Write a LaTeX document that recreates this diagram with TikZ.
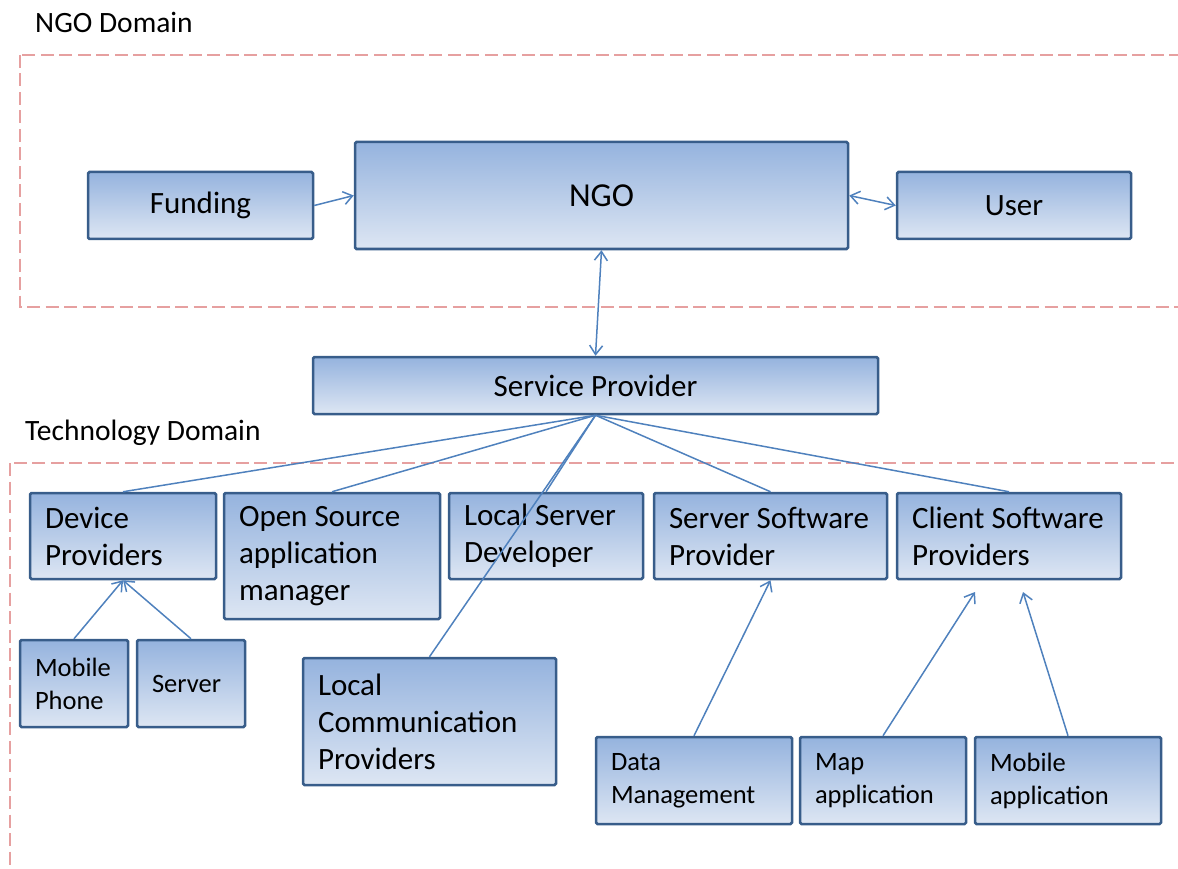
\documentclass[tikz,border=0pt]{standalone}
\usepackage{fontspec}
\setmainfont{Carlito}
\usetikzlibrary{arrows.meta}
\definecolor{boxline}{RGB}{56,93,138}
\definecolor{boxtop}{RGB}{149,179,222}
\definecolor{boxbot}{RGB}{221,230,243}
\definecolor{linkblue}{RGB}{79,129,189}
\definecolor{domainred}{RGB}{230,160,160}

\begin{document}
\begin{tikzpicture}[x=1pt,y=-1pt,>={Straight Barb[length=9pt,width=13pt]},
		blk/.style={draw=boxline,line width=2.5pt,rounded corners=1.5pt,top color=boxtop,bottom color=boxbot,inner sep=0pt,font=\fontsize{31}{37}\selectfont},
		lblk/.style={blk,align=flush left},
		small/.style={font=\fontsize{26.5}{33}\selectfont},
		link/.style={draw=linkblue,line width=1.5pt},
		domainbox/.style={draw=domainred,line width=1.7pt,dash pattern=on 13pt off 5.5pt},
		dlabel/.style={font=\fontsize{29.5}{35}\selectfont,inner sep=0pt}]
			\useasboundingbox (0,0) rectangle (1178,869);
			\clip (0,0) rectangle (1178,869);
			% NGO domain
			\draw[domainbox] (20,55) rectangle (1200,307);
			\node[dlabel,anchor=base west] (ngodom) at (35,33) {NGO Domain};
			\node[blk,minimum width=225pt,minimum height=67pt] (fund) at (200.5,205.5) {Funding};
			\node[blk,minimum width=493pt,minimum height=107pt,font=\fontsize{33.5}{40}\selectfont] (ngo) at (601.5,195.5) {NGO};
			\node[blk,minimum width=234pt,minimum height=67pt] (user) at (1014,205.5) {User};
			% Service provider
			\node[blk,minimum width=565pt,minimum height=57pt] (sp) at (595.5,385.5) {Service Provider};
			% Technology domain
			\draw[domainbox] (10,463) rectangle (1200,900);
			\node[dlabel,anchor=base west] (techdom) at (25,440) {Technology Domain};
			\node[lblk,minimum width=186pt,minimum height=86pt,text width=156pt] (dev) at (123,536) {Device\\Providers};
			\node[lblk,minimum width=216pt,minimum height=126pt,text width=186pt] (oss) at (332,556) {Open Source\\application\\manager};
			\node[lblk,minimum width=194pt,minimum height=86pt,text width=164pt] (lsd) at (546,536) {Local Server\\Developer};
			\node[lblk,minimum width=233pt,minimum height=86pt,text width=203pt] (ssp) at (770.5,536) {Server Software\\Provider};
			\node[lblk,minimum width=224pt,minimum height=86pt,text width=194pt] (csp) at (1009,536) {Client Software\\Providers};
			\node[lblk,minimum width=253pt,minimum height=127pt,text width=223pt] (lcp) at (429.5,721.5) {Local\\Communication\\Providers};
			% Lower boxes
			\node[lblk,small,minimum width=108pt,minimum height=87pt,text width=78pt] (mob) at (74,683.5) {Mobile\\Phone};
			\node[lblk,small,minimum width=108pt,minimum height=87pt,text width=78pt] (srv) at (191,683.5) {Server};
			\node[lblk,small,minimum width=196pt,minimum height=87pt,text width=166pt] (dat) at (694,780.5) {Data\\Management};
			\node[lblk,small,minimum width=166pt,minimum height=87pt,text width=136pt] (map) at (883,780.5) {Map\\application};
			\node[lblk,small,minimum width=186pt,minimum height=87pt,text width=156pt] (mapp) at (1068,780.5) {Mobile\\application};
			\coordinate (cspa) at (975,592);
			\coordinate (cspb) at (1023,592);
			% Links
			\draw[link,->] (fund.east) -- (ngo.west);
			\draw[link,<->] (ngo.east) -- (user.west);
			\draw[link,<->] (ngo.south) -- (sp.north);
			\draw[link] (sp.south) -- (dev.north);
			\draw[link] (sp.south) -- (oss.north);
			\draw[link] (sp.south) -- (lsd.north);
			\draw[link] (sp.south) -- (lcp.north);
			\draw[link] (sp.south) -- (ssp.north);
			\draw[link] (sp.south) -- (csp.north);
			\draw[link,->] (mob.north) -- (dev.south);
			\draw[link,->] (srv.north) -- (dev.south);
			\draw[link,->] (dat.north) -- (ssp.south);
			\draw[link,->] (map.north) -- (cspa);
			\draw[link,->] (mapp.north) -- (cspb);
			
		\end{tikzpicture}
\end{document}
